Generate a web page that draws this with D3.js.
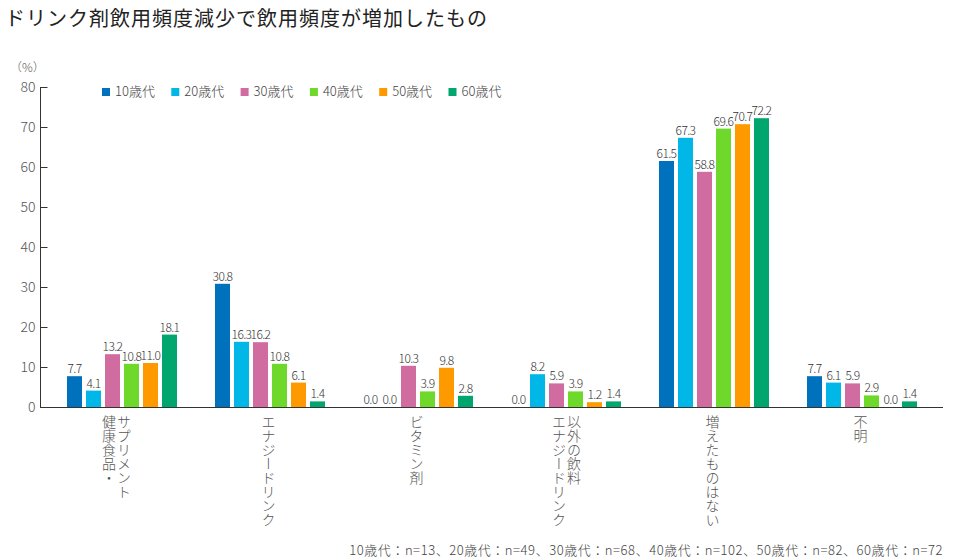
<!DOCTYPE html>
<html><head><meta charset="utf-8">
<script src="https://cdn.jsdelivr.net/npm/d3@7"></script>
<style>
body{margin:0;background:#fff;}
text{font-family:"Noto Sans CJK JP","Noto Sans",sans-serif;}
.lt{font-weight:300;}
</style></head>
<body><svg id="c" width="965" height="560"></svg>
<script>
const title = "ドリンク剤飲用頻度減少で飲用頻度が増加したもの";
const categories = ["健康食品・サプリメント","エナジードリンク","ビタミン剤","エナジードリンク以外の飲料","増えたものはない","不明"];
const categoryLines = [["健康食品・","サプリメント"],["エナジードリンク"],["ビタミン剤"],["エナジードリンク","以外の飲料"],["増えたものはない"],["不明"]];
const seriesNames = ["10歳代","20歳代","30歳代","40歳代","50歳代","60歳代"];
const s10 = [7.7, 30.8, 0.0, 0.0, 61.5, 7.7];
const s20 = [4.1, 16.3, 0.0, 8.2, 67.3, 6.1];
const s30 = [13.2, 16.2, 10.3, 5.9, 58.8, 5.9];
const s40 = [10.8, 10.8, 3.9, 3.9, 69.6, 2.9];
const s50 = [11.0, 6.1, 9.8, 1.2, 70.7, 0.0];
const s60 = [18.1, 1.4, 2.8, 1.4, 72.2, 1.4];
const colors = ["#0071bc","#00b7e8","#d06c9f","#6ed92b","#ff9900","#00a66e"];
const yTicks = [0,10,20,30,40,50,60,70,80];
const unitLabel = "（%）";
const footnote = "10歳代：n=13、20歳代：n=49、30歳代：n=68、40歳代：n=102、50歳代：n=82、60歳代：n=72";

const seriesValues = [s10,s20,s30,s40,s50,s60];
const svg = d3.select("#c");

const y = d3.scaleLinear().domain([0,80]).range([407,87]);
const x0 = d3.scaleBand().domain(categories).range([48,936]).padding(0);
const x1 = d3.scaleBand().domain(seriesNames).range([0,x0.bandwidth()]).paddingInner(4/19).paddingOuter(1);

// title
svg.append("text").attr("x",5).attr("y",26).attr("font-size",20).attr("letter-spacing",1)
  .attr("fill","#222").text(title);
svg.append("text").attr("class","lt").attr("x",10).attr("y",72).attr("font-size",12).attr("fill","#555").text(unitLabel);

// y axis
const yAxis = d3.axisLeft(y).tickValues(yTicks).tickSize(-7).tickPadding(5);
const ya = svg.append("g").attr("transform","translate(40.5,0)").call(yAxis);
ya.select(".domain").attr("stroke","#333").attr("d","M0,87V407");
ya.selectAll(".tick line").attr("stroke","#333");
ya.selectAll(".tick text").attr("class","lt").attr("font-size",14).attr("fill","#555").attr("x",-5)
  .style("font-family","'Noto Sans CJK JP',sans-serif");

// bars
const groups = svg.append("g").selectAll("g").data(categories).join("g")
  .attr("transform",d=>`translate(${x0(d)},0)`);
groups.each(function(cat,ci){
  const g = d3.select(this);
  seriesNames.forEach((s,si)=>{
    const v = seriesValues[si][ci];
    g.append("rect").attr("x",x1(s)).attr("width",x1.bandwidth())
      .attr("y",y(v)).attr("height",y(0)-y(v)).attr("fill",colors[si]);
    g.append("text").attr("class","lt").attr("x",x1(s)+x1.bandwidth()/2).attr("y",y(v)-3)
      .attr("text-anchor","middle").attr("font-size",12).attr("letter-spacing",-0.6)
      .attr("fill","#333")
      .text(v.toFixed(1));
  });
});

// baseline
svg.append("line").attr("x1",40).attr("x2",943).attr("y1",407.5).attr("y2",407.5)
  .attr("stroke","#333").attr("stroke-width",1);

// category labels (vertical)
const labelShift = [-4, 0, 0, 2, 0, 0];
categories.forEach((cat,ci)=>{
  const lines = categoryLines[ci];
  const cx = x0(cat)+x0.bandwidth()/2 - 1.5 + labelShift[ci];
  const n = lines.length;
  lines.forEach((ln,li)=>{
    const xx = cx + (li-(n-1)/2)*15;
    svg.append("text").attr("class","lt").attr("x",xx).attr("y",415)
      .attr("font-size",14).attr("fill","#555")
      .style("writing-mode","vertical-rl").style("text-orientation","mixed")
      .text(ln);
  });
});

// legend
const lg = svg.append("g");
seriesNames.forEach((s,i)=>{
  const lx = 102 + i*69.3;
  lg.append("rect").attr("x",lx).attr("y",88).attr("width",8).attr("height",8).attr("fill",colors[i]);
  lg.append("text").attr("class","lt").attr("x",lx+13).attr("y",96).attr("font-size",13).attr("fill","#444").text(s);
});

// footnote
svg.append("text").attr("class","lt").attr("x",943).attr("y",555).attr("text-anchor","end")
  .attr("font-size",13).attr("letter-spacing",0.55).attr("fill","#444").text(footnote);
</script></body></html>
